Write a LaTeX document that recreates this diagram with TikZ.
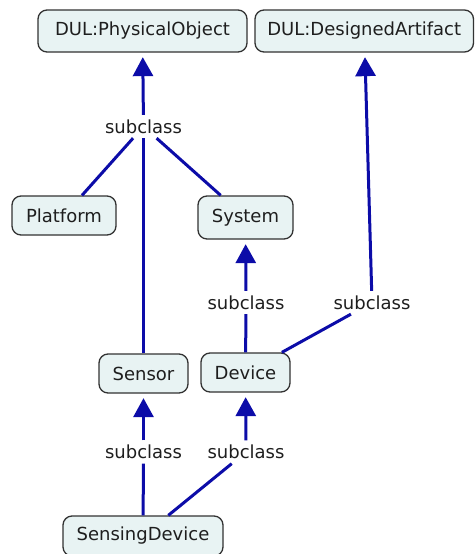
\documentclass[tikz,border=0pt]{standalone}
\usepackage{fontspec}
\setmainfont{DejaVu Sans}
\usetikzlibrary{arrows.meta}
\definecolor{linkblue}{RGB}{12,12,168}
\definecolor{boxfill}{RGB}{232,243,243}
\definecolor{boxline}{RGB}{50,50,50}
\definecolor{inktext}{RGB}{30,30,30}
\begin{document}
\begin{tikzpicture}[x=1pt,y=-1pt,
  labelfont/.style={font=\fontsize{18}{21}\selectfont, text=inktext},
  concept/.style={labelfont, draw=boxline, line width=1.3pt, fill=boxfill,
    rounded corners=9pt, inner sep=0pt},
  phrase/.style={labelfont, inner sep=4.5pt},
  link/.style={draw=linkblue, line width=3pt},
  isa/.style={link, -{Triangle[length=19pt,width=20pt]}, shorten >=4.5pt}
]
\useasboundingbox (0,0) rectangle (475,554);

% concepts
\node[concept, minimum width=209pt, minimum height=42pt] (po) at (142.5,31) {DUL:PhysicalObject};
\node[concept, minimum width=218.5pt, minimum height=42pt] (da) at (364.25,31) {DUL:DesignedArtifact};
\node[concept, minimum width=104pt, minimum height=39pt] (platform) at (64,215.5) {Platform};
\node[concept, minimum width=95pt, minimum height=43pt] (system) at (245.5,217.5) {System};
\node[concept, minimum width=89pt, minimum height=39pt] (sensor) at (143.5,373.5) {Sensor};
\node[concept, minimum width=89pt, minimum height=39pt] (device) at (245.5,372.5) {Device};
\node[concept, minimum width=160pt, minimum height=40pt] (sensing) at (143,536) {SensingDevice};

% linking phrases
\node[phrase] (sub1) at (143.5,126.5) {subclass};
\node[phrase] (sub2) at (246,302.5) {subclass};
\node[phrase] (sub3) at (372,302.5) {subclass};
\node[phrase] (sub4) at (143.5,452) {subclass};
\node[phrase] (sub5) at (246,452) {subclass};

% subclass links
\draw[link] (platform) -- (sub1);
\draw[link] (system) -- (sub1);
\draw[link] (sensor) -- (sub1);
\draw[isa] (sub1) -- (po);

\draw[link] (device) -- (sub2);
\draw[isa] (sub2) -- (system);

\draw[link] (device) -- (sub3);
\draw[isa] (sub3) -- (da);

\draw[link] (sensing) -- (sub4);
\draw[isa] (sub4) -- (sensor);

\draw[link] (sensing) -- (sub5);
\draw[isa] (sub5) -- (device);
\end{tikzpicture}
\end{document}
